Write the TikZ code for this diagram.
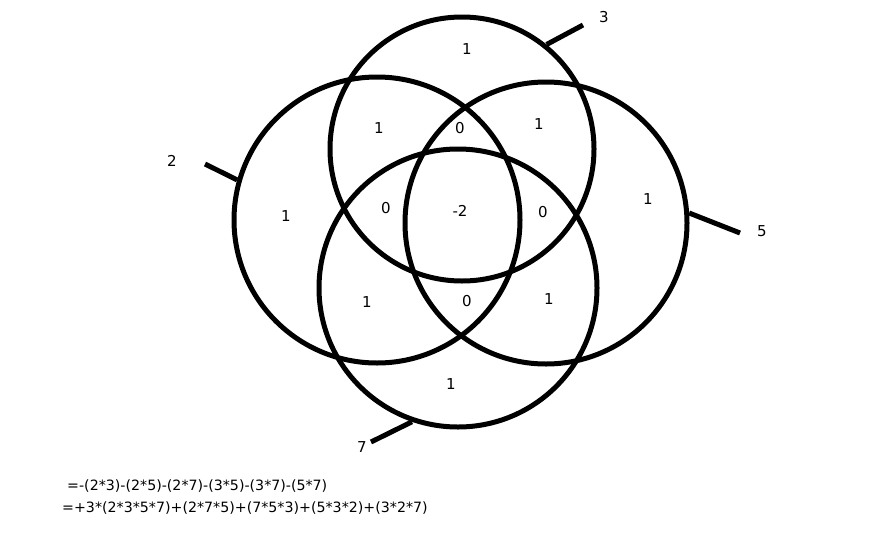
\documentclass[tikz,border=0pt]{standalone}
\usepackage{fontspec}
\setmainfont{DejaVu Sans}
\begin{document}
\begin{tikzpicture}[x=1pt,y=-1pt,
  ring/.style={circle,draw=black,line width=5pt,inner sep=0pt,minimum size=#1},
  tick/.style={line width=5pt},
  lbl/.style={inner sep=0pt,font=\fontsize{15}{18}\selectfont},
  formula/.style={inner sep=0pt,anchor=west,font=\fontsize{14.2}{17}\selectfont}]
\useasboundingbox (0,0) rectangle (873,536);
% circles
\node[ring=264pt] (top) at (462,149) {};
\node[ring=286pt] (left) at (377,220) {};
\node[ring=282pt] (right) at (546,223) {};
\node[ring=278pt] (bottom) at (458,288) {};
% tick ends
\coordinate (t3) at (583,25);
\coordinate (t2) at (205,164);
\coordinate (t5) at (740,233);
\coordinate (t7) at (371,442);
\draw[tick] (top.51) -- (t3);
\draw[tick] (left.164) -- (t2);
\draw[tick] (right.4) -- (t5);
\draw[tick] (bottom.251) -- (t7);
% circle labels
\node[lbl] (l3) at (604,17) {3};
\node[lbl] (l2) at (172,161) {2};
\node[lbl] (l5) at (762,231) {5};
\node[lbl] (l7) at (362,447) {7};
% region values
\node[lbl] (r1) at (467,49) {1};
\node[lbl] (r2) at (379,128) {1};
\node[lbl] (r3) at (460,128) {0};
\node[lbl] (r4) at (539,124) {1};
\node[lbl] (r5) at (286,216) {1};
\node[lbl] (r6) at (386,208) {0};
\node[lbl] (r7) at (460,211) {-2};
\node[lbl] (r8) at (543,212) {0};
\node[lbl] (r9) at (648,199) {1};
\node[lbl] (r10) at (367,302) {1};
\node[lbl] (r11) at (467,301) {0};
\node[lbl] (r12) at (549,299) {1};
\node[lbl] (r13) at (451,384) {1};
% formulas
\node[formula] (f1) at (67,486) {=-(2*3)-(2*5)-(2*7)-(3*5)-(3*7)-(5*7)};
\node[formula] (f2) at (62,508) {=+3*(2*3*5*7)+(2*7*5)+(7*5*3)+(5*3*2)+(3*2*7)};
\end{tikzpicture}
\end{document}
